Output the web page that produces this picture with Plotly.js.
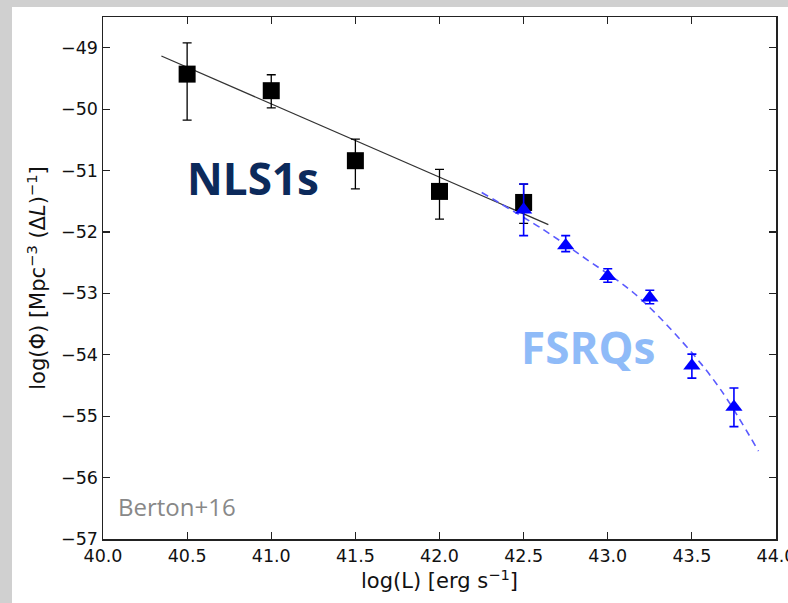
<!DOCTYPE html>
<html>
<head>
<meta charset="utf-8">
<script src="https://cdn.plot.ly/plotly-3.0.1.min.js"></script>
<style>
  html, body { margin: 0; padding: 0; width: 788px; height: 603px; overflow: hidden; background: #d0d0d0; }
  #chart { position: absolute; left: 12px; top: 7px; width: 776px; height: 596px; background: #ffffff; overflow: hidden; }
</style>
</head>
<body>
<div id="chart"></div>
<script>
// NLS1s (black squares)
const nlsX = [40.5, 41.0, 41.5, 42.0, 42.5];
const nlsY = [-49.43, -49.70, -50.84, -51.34, -51.52];
const nlsErrPlus = [0.51, 0.26, 0.35, 0.36, 0.30];
const nlsErrMinus = [0.75, 0.28, 0.46, 0.45, 0.34];

// FSRQs (blue triangles)
const fsrqX = [42.5, 42.75, 43.0, 43.25, 43.5, 43.75];
const fsrqY = [-51.64, -52.22, -52.72, -53.07, -54.18, -54.85];
const fsrqErrPlus = [0.42, 0.16, 0.12, 0.12, 0.19, 0.31];
const fsrqErrMinus = [0.42, 0.10, 0.10, 0.10, 0.20, 0.32];

// NLS1 linear fit (solid line)
const fitX = [40.347, 42.647];
const fitY = [-49.135, -51.88];

// FSRQ model curve (dashed)
const curveX = [42.251, 42.617, 42.876, 43.153, 43.450, 43.669, 43.896];
const curveY = [-51.358, -51.962, -52.45, -52.99, -53.81, -54.56, -55.57];

const xTicks = [40.0, 40.5, 41.0, 41.5, 42.0, 42.5, 43.0, 43.5, 44.0];
const yTicks = [-57, -56, -55, -54, -53, -52, -51, -50, -49];

const traces = [
  {
    x: fitX, y: fitY, mode: 'lines', type: 'scatter',
    line: {color: '#333333', width: 1.3}, hoverinfo: 'skip', showlegend: false
  },
  {
    x: curveX, y: curveY, mode: 'lines', type: 'scatter',
    line: {color: '#5a5aff', width: 1.6, dash: '7px,5px', shape: 'spline'},
    hoverinfo: 'skip', showlegend: false
  },
  {
    x: nlsX, y: nlsY, mode: 'markers', type: 'scatter',
    marker: {symbol: 'square', size: 17, color: '#000000'},
    error_y: {type: 'data', symmetric: false, array: nlsErrPlus, arrayminus: nlsErrMinus,
              color: '#000000', thickness: 1.3, width: 4.5},
    showlegend: false
  },
  {
    x: fsrqX, y: fsrqY, mode: 'markers', type: 'scatter',
    marker: {symbol: 'triangle-up', size: 15, color: '#0000ff'},
    error_y: {type: 'data', symmetric: false, array: fsrqErrPlus, arrayminus: fsrqErrMinus,
              color: '#0000ff', thickness: 1.6, width: 4.5},
    showlegend: false
  }
];

const axisCommon = {
  showline: true, linecolor: '#222222', linewidth: 1.5, mirror: 'ticks',
  ticks: 'inside', ticklen: 7, tickwidth: 1.2, tickcolor: '#222222',
  showgrid: false, zeroline: false, ticklabeloverflow: 'allow',
  tickfont: {family: 'DejaVu Sans, sans-serif', size: 17.5, color: '#111111'}
};

const layout = {
  width: 776, height: 596,
  margin: {l: 91, r: 12, t: 10, b: 64},
  paper_bgcolor: '#ffffff', plot_bgcolor: '#ffffff',
  xaxis: Object.assign({}, axisCommon, {
    range: [40, 44], tickvals: xTicks, ticktext: xTicks.map(v => v.toFixed(1)),
    title: {text: 'log(L) [erg s<sup>−1</sup>]', font: {family: 'DejaVu Sans, sans-serif', size: 21, color: '#111111'}, standoff: 9}
  }),
  yaxis: Object.assign({}, axisCommon, {
    range: [-57, -48.5], tickvals: yTicks, ticktext: yTicks.map(v => '−' + Math.abs(v)),
    title: {text: 'log(Φ) [Mpc<sup>−3</sup> (Δ<i>L</i>)<sup>−1</sup>]', font: {family: 'DejaVu Sans, sans-serif', size: 21, color: '#111111'}, standoff: 9}
  }),
  annotations: [
    {x: 40.89, y: -51.12, xref: 'x', yref: 'y', text: 'NLS1s', showarrow: false,
     font: {family: 'Open Sans, sans-serif', size: 44, color: '#0c2a5b', weight: 'bold'}},
    {x: 42.883, y: -53.88, xref: 'x', yref: 'y', text: 'FSRQs', showarrow: false,
     font: {family: 'Open Sans, sans-serif', size: 44, color: '#8fbbf8', weight: 'bold'}},
    {x: 40.075, y: -56.47, xref: 'x', yref: 'y', text: 'Berton+16', showarrow: false,
     xanchor: 'left', font: {family: 'Open Sans, sans-serif', size: 24, color: '#888888'}}
  ]
};

Plotly.newPlot('chart', traces, layout, {displayModeBar: false, staticPlot: true});
</script>
</body>
</html>
